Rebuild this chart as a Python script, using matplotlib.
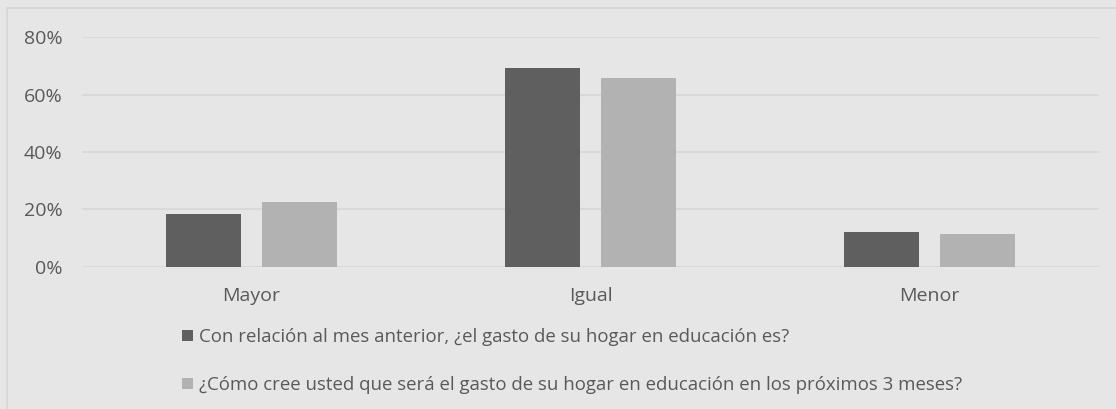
import matplotlib.pyplot as plt
from matplotlib.patches import Rectangle
from matplotlib.ticker import PercentFormatter
import numpy as np

# datos del gráfico
categorias = ['Mayor', 'Igual', 'Menor']
gasto_mes_anterior = [0.184, 0.693, 0.121]
gasto_prox_3_meses = [0.226, 0.658, 0.114]
etiqueta_1 = 'Con relación al mes anterior, ¿el gasto de su hogar en educación es?'
etiqueta_2 = '¿Cómo cree usted que será el gasto de su hogar en educación en los próximos 3 meses?'
ticks_y = [0, 0.2, 0.4, 0.6, 0.8]

color_fondo = '#E6E6E6'
color_texto = '#595959'
color_oscuro = '#5F5F5F'
color_claro = '#B2B2B2'
color_grid = '#D9D9D9'

plt.rcParams['font.family'] = ['Open Sans', 'DejaVu Sans']

fig = plt.figure(figsize=(11.16, 4.09), dpi=100, facecolor=color_fondo)

# borde del área del gráfico (recortado a la derecha y abajo)
borde = Rectangle((7 / 1116, -0.1), 1.2, (409 - 8) / 409 + 0.1,
                  transform=fig.transFigure, facecolor='none',
                  edgecolor='#D6D6D6', linewidth=1.2)
fig.patches.append(borde)

ax = fig.add_axes([82 / 1116, 142.3 / 409, 1017 / 1116, 229.4 / 409])
ax.set_facecolor(color_fondo)

x = np.arange(len(categorias))
ancho = 0.224
desp = 0.1416
ax.bar(x - desp, gasto_mes_anterior, ancho, color=color_oscuro, label=etiqueta_1, zorder=3)
ax.bar(x + desp, gasto_prox_3_meses, ancho, color=color_claro, label=etiqueta_2, zorder=3)

ax.set_xlim(-0.5, 2.5)
ax.set_ylim(0, 0.8)
ax.set_yticks(ticks_y)
ax.yaxis.set_major_formatter(PercentFormatter(1.0, decimals=0))
ax.set_xticks(x)
ax.set_xticklabels(categorias)

ax.grid(axis='y', color=color_grid, linewidth=1.5, zorder=0)
for s in ax.spines.values():
    s.set_visible(False)
ax.tick_params(axis='both', length=0, colors=color_texto, labelsize=14)
ax.tick_params(axis='y', pad=14)
ax.tick_params(axis='x', pad=14.5)

leg = ax.legend(loc='upper left', bbox_to_anchor=(182 / 1116, 81 / 409),
                bbox_transform=fig.transFigure, frameon=False,
                fontsize=13.4, labelcolor=color_texto,
                handlelength=0.6, handleheight=0.6, handletextpad=0.32,
                labelspacing=1.62, borderaxespad=0, borderpad=0)

fig.savefig('out.png', dpi=100, facecolor=color_fondo)
